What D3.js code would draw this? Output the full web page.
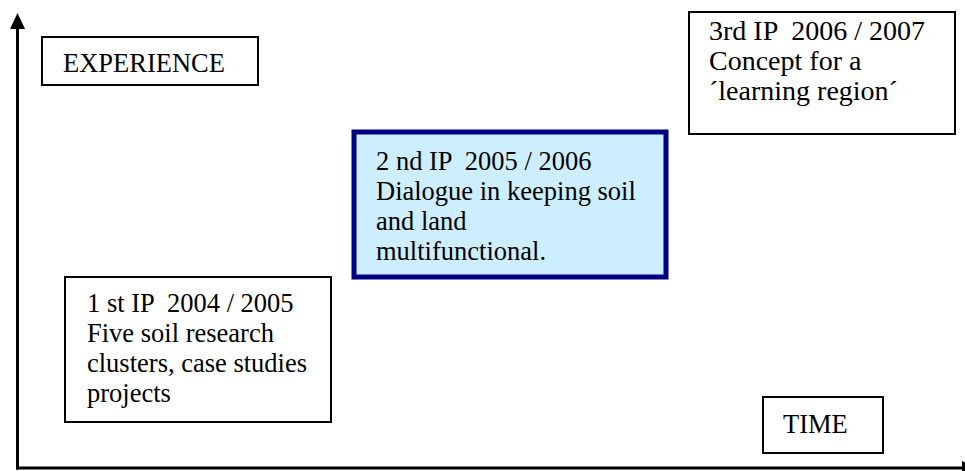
<!DOCTYPE html>
<html>
<head>
<meta charset="utf-8">
<script src="https://cdn.jsdelivr.net/npm/d3@7"></script>
<style>
  html, body { margin: 0; padding: 0; background: #fff; }
  svg { display: block; }
</style>
</head>
<body>
<svg id="chart"></svg>
<script>
// diagram content
const axisLabels = ["EXPERIENCE", "TIME"];
const stageTitles = ["1 st IP  2004 / 2005", "2 nd IP  2005 / 2006", "3rd IP  2006 / 2007"];
const stageLines = [
  ["Five soil research", "clusters, case studies", "projects"],
  ["Dialogue in keeping soil", "and land", "multifunctional."],
  ["Concept for a", "´learning region´"]
];
const highlighted = [false, true, false];

const width = 965, height = 471;
const lineGap = 30;

// layout of the boxes (pixels)
const stageBoxes = [
  { x: 65, y: 277, w: 266, h: 145, tx: 22, ty: 35, fs: 26.5 },
  { x: 354, y: 132, w: 312, h: 145, tx: 22, ty: 38, fs: 26.5 },
  { x: 689, y: 12, w: 266, h: 122, tx: 20, ty: 28, fs: 28 }
];
const labelBoxes = [
  { x: 42, y: 37, w: 216, h: 48, tx: 21, ty: 35, fs: 26.5 },
  { x: 763, y: 397, w: 120, h: 56, tx: 20, ty: 36, fs: 26.5 }
];

const svg = d3.select("#chart")
  .attr("width", width)
  .attr("height", height)
  .attr("viewBox", [0, 0, width, height]);

// axes
const axisX = 17.5, axisY = 468;
const ax = svg.append("g").attr("fill", "#000").attr("stroke", "#000");
ax.append("line")
  .attr("x1", axisX).attr("x2", axisX).attr("y1", axisY + 1.5).attr("y2", 28)
  .attr("stroke-width", 3);
ax.append("path")
  .attr("stroke", "none")
  .attr("d", d3.line()([[axisX - 7.5, 29], [axisX + 7.5, 29], [axisX, 13]]) + "Z");
ax.append("line")
  .attr("x1", axisX - 1.5).attr("x2", 963).attr("y1", axisY).attr("y2", axisY)
  .attr("stroke-width", 3);
ax.append("path")
  .attr("stroke", "none")
  .attr("d", d3.line()([[962, 461], [962, 475], [977, 468]]) + "Z");

const font = "'Liberation Serif', 'Times New Roman', serif";

function drawBox(b, lines, opts) {
  const g = svg.append("g").attr("transform", `translate(${b.x},${b.y})`);
  g.append("rect")
    .attr("width", b.w).attr("height", b.h)
    .attr("fill", opts.fill)
    .attr("stroke", opts.stroke)
    .attr("stroke-width", opts.sw);
  g.append("g")
    .attr("font-family", font)
    .attr("font-size", b.fs)
    .attr("fill", "#000")
    .selectAll("text")
    .data(lines)
    .join("text")
    .style("white-space", "pre")
    .attr("x", b.tx)
    .attr("y", (d, i) => b.ty + i * lineGap)
    .text(d => d);
}

axisLabels.forEach((lbl, i) => {
  drawBox(labelBoxes[i], [lbl], { fill: "#fff", stroke: "#000", sw: 2 });
});

stageTitles.forEach((t, i) => {
  const hi = highlighted[i];
  drawBox(stageBoxes[i], [t].concat(stageLines[i]), {
    fill: hi ? "#cceeff" : "#fff",
    stroke: hi ? "#000080" : "#000",
    sw: hi ? 5 : 2
  });
});
</script>
</body>
</html>
